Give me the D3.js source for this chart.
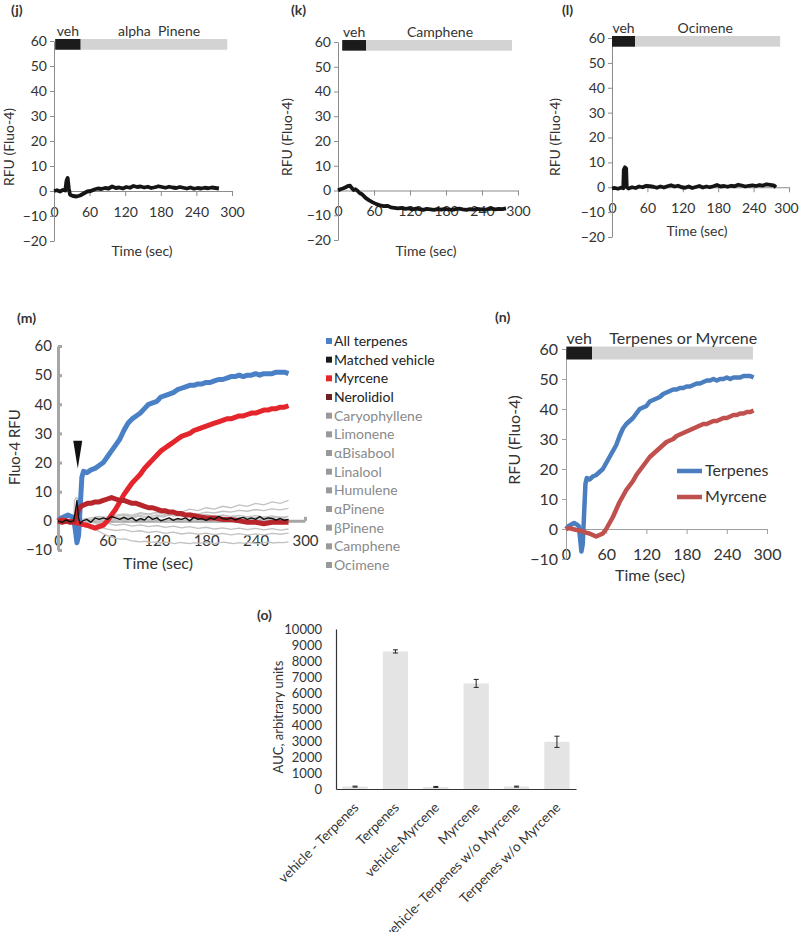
<!DOCTYPE html>
<html>
<head>
<meta charset="utf-8">
<script src="https://cdn.jsdelivr.net/npm/d3@7"></script>
<style>
body { margin: 0; background: #fff; }
svg { font-family: Lato, "Open Sans", sans-serif; }
.ax text { fill: #333; font-family: Lato, sans-serif; }
.t { fill: #333; white-space: pre; }
</style>
</head>
<body>
<svg id="fig" width="800" height="932"></svg>
<script>
// tick labels
const timeTicks = [0, 60, 120, 180, 240, 300]
const rfuTicks = [-20, -10, 0, 10, 20, 30, 40, 50, 60]
const rfuTicksMN = [-10, 0, 10, 20, 30, 40, 50, 60]
const aucTicks = [0, 1000, 2000, 3000, 4000, 5000, 6000, 7000, 8000, 9000, 10000]

// single terpene traces, [sec, RFU]
const alphaPinene = [[0,0],[5,0.3],[10,-0.2],[15,0.4],[19,0.2],[21,4],[23,5.2],[25,1],[27,-1.5],[32,-2],[38,-2.2],[44,-1.8],[50,-1],[56,-0.2],[62,0],[68,0.6],[74,1],[80,0.8],[86,1.2],[92,1],[98,1.8],[104,1.2],[110,1.4],[116,1],[122,1.6],[128,1.3],[134,2],[140,1.6],[146,1.8],[152,1.4],[158,1.7],[164,1.2],[170,1.5],[176,1.9],[182,1.6],[188,1.3],[194,1.7],[200,1.4],[206,1.2],[212,1.6],[218,1.3],[224,1],[230,1.4],[236,0.9],[242,1.2],[248,1],[254,1.3],[260,1.1],[266,1.4],[272,1.2],[278,1]]
const camphene = [[0,0],[4,0.5],[8,0.8],[12,1.2],[16,1.8],[20,2],[23,1],[26,0.2],[29,0.5],[32,0],[36,-1],[40,-1.5],[46,-3],[52,-4],[58,-4.8],[64,-5.5],[70,-6],[76,-6.3],[82,-6.2],[88,-6.8],[94,-7],[100,-7.2],[106,-7],[112,-7.4],[118,-7.2],[124,-7.6],[130,-7.3],[136,-7.5],[142,-7.8],[148,-7.4],[154,-7.6],[160,-7.8],[166,-7.5],[172,-7.7],[178,-7.4],[184,-7.6],[190,-7.8],[196,-7.5],[202,-7.3],[208,-7.6],[214,-7.8],[220,-7.5],[226,-7.7],[232,-7.4],[238,-7.6],[244,-7.8],[250,-7.5],[256,-7.3],[262,-7.6],[268,-7.4],[274,-7.5],[280,-7.2]]
const ocimene = [[0,-0.5],[5,-0.3],[10,-0.6],[15,-0.2],[19,-0.4],[20,7],[22,8],[24,7.5],[25,0],[28,-0.5],[34,0],[40,-0.3],[46,0.3],[52,0],[58,0.6],[64,0.4],[70,0.2],[76,-0.2],[82,0.3],[88,-0.1],[94,0.4],[100,0.8],[106,0.3],[112,0.6],[118,0],[124,-0.2],[130,0.3],[136,-0.3],[142,0.1],[148,0.5],[154,-0.1],[160,0.3],[166,0],[172,0.4],[178,0.9],[184,0.3],[190,0.5],[196,0.2],[202,0.6],[208,0.4],[214,1],[220,0.7],[226,0.3],[232,0.6],[238,0.8],[244,0.5],[250,0.9],[256,0.7],[262,1.2],[268,1],[274,0.8],[278,0]]

// mixture traces
const allTerpenes = [[0,0],[4,1],[8,1.5],[12,2],[16,1.5],[19,1],[21,-3],[23,-7.5],[25,-5],[27,5],[29,15],[31,17],[35,16.5],[40,17.5],[45,18],[50,19],[55,20],[60,22],[65,24],[70,26],[75,28],[80,31],[85,33.5],[90,35],[95,36],[100,37],[105,38.5],[110,40],[115,40.5],[120,41],[125,42.5],[130,43],[135,43.5],[140,44],[145,45],[150,45.5],[155,46],[160,46.5],[165,46.5],[170,47],[175,47],[180,47.5],[185,47.5],[190,48],[195,48.5],[200,48.5],[205,49],[210,49.5],[215,49.5],[220,50],[225,49.5],[230,50],[235,50],[240,50.5],[245,50],[250,50.5],[255,50.5],[260,50.5],[265,51],[270,51],[275,51],[280,50.5]]
const myrcene = [[0,0],[5,0.3],[10,0],[15,-0.3],[20,-0.5],[25,-0.8],[30,-1.2],[35,-1.5],[40,-2],[45,-2.5],[50,-2],[55,-1.5],[60,0],[65,2],[70,4],[75,6.5],[80,9],[85,11],[90,13],[95,14.5],[100,16],[105,18],[110,19.5],[115,21],[120,22.5],[125,24],[130,25],[135,26],[140,27],[145,28],[150,29],[155,29.5],[160,30],[165,31],[170,31.5],[175,32],[180,32.5],[185,33],[190,33.5],[195,34],[200,34.5],[205,35],[210,35],[215,35.5],[220,36],[225,36],[230,36.5],[235,37],[240,37],[245,37.5],[250,38],[255,38],[260,38.5],[265,38.5],[270,39],[275,39],[280,39.5]]
const nerolidiol = [[0,0],[5,-0.5],[10,0],[15,-0.5],[20,0],[23,2],[25,4],[28,5],[32,5.5],[36,6],[40,6],[45,6.5],[50,6.5],[55,7],[60,7.5],[65,8],[70,7.5],[75,7],[80,7],[85,6.5],[90,6],[95,6],[100,5.5],[105,5],[110,4.5],[115,4.5],[120,4],[125,3.5],[130,3.5],[135,3],[140,3],[145,2.5],[150,2.5],[155,2],[160,2],[170,1.5],[180,1],[190,1],[200,0.5],[210,0.5],[220,0],[230,-0.5],[240,-0.5],[250,-1],[260,-0.5],[270,-0.5],[280,-0.5]]
const matchedVehicle = [[0,0],[5,-0.5],[10,0.3],[15,-0.3],[19,0],[21,3],[23,7],[25,1],[27,-1],[30,0],[35,0.5],[40,-0.5],[45,1],[50,0.5],[55,1],[60,0.5],[65,1.5],[70,1],[75,0.5],[80,1.2],[85,0.5],[90,1],[95,0],[100,0.8],[105,0.3],[110,1.5],[115,0.5],[120,1],[125,0],[130,0.5],[135,1],[140,0.2],[145,0.8],[150,0.5],[155,1],[160,0],[165,1.2],[170,0.5],[175,0.8],[180,0.2],[185,1],[190,0.5],[195,1.5],[200,0.8],[205,0.5],[210,1],[215,0.3],[220,0.8],[225,1.2],[230,0.5],[235,1],[240,0.5],[245,1.5],[250,0.5],[255,1],[260,0.8],[265,0.3],[270,0.8],[275,0.2],[280,0.5]]
const caryophyllene = [[0,0],[10,0.5],[20,0],[30,-0.5],[40,0.5],[50,1],[60,0.5],[70,1.5],[80,2],[90,1.5],[100,2.5],[110,2],[120,3],[130,2.5],[140,3.5],[150,3],[160,4],[170,3.5],[180,4.5],[190,4],[200,5],[210,4.5],[220,5.5],[230,5],[240,6],[250,5.5],[260,6.5],[270,6],[280,7]]
const limonene = [[0,0],[10,-0.5],[20,0.3],[30,0],[40,0.5],[50,0.2],[60,1],[70,0.6],[80,1.4],[90,1],[100,1.8],[110,1.4],[120,2],[130,1.7],[140,2.4],[150,2],[160,2.7],[170,2.4],[180,3],[190,2.7],[200,3.3],[210,3],[220,3.6],[230,3.3],[240,3.9],[250,3.5],[260,4.1],[270,3.8],[280,4.3]]
const bisabool = [[0,0],[10,0.4],[20,0],[30,0.6],[40,1],[50,1.5],[60,1.2],[70,2],[80,2.4],[90,2],[100,2.8],[110,2.4],[120,2.8],[130,2.2],[140,2.6],[150,2],[160,2.4],[170,1.8],[180,2.2],[190,1.6],[200,2],[210,1.5],[220,1.9],[230,1.4],[240,1.8],[250,1.3],[260,1.7],[270,1.2],[280,1.5]]
const linalool = [[0,0],[10,-0.4],[20,0.2],[30,-0.3],[40,0.3],[50,-0.2],[60,0.4],[70,0],[80,0.6],[90,0.1],[100,0.5],[110,0],[120,0.6],[130,0.2],[140,0.7],[150,0.2],[160,0.6],[170,0.1],[180,0.5],[190,0],[200,0.6],[210,0.2],[220,0.7],[230,0.3],[240,0.8],[250,0.3],[260,0.7],[270,0.2],[280,0.5]]
const humulene = [[0,0],[10,0.3],[20,-0.4],[30,-0.8],[40,-0.4],[50,-1.2],[60,-0.8],[70,-1.5],[80,-1.1],[90,-1.8],[100,-1.4],[110,-2],[120,-1.6],[130,-2.2],[140,-1.8],[150,-2.4],[160,-2],[170,-2.6],[180,-2.2],[190,-2.8],[200,-2.4],[210,-2.9],[220,-2.5],[230,-3],[240,-2.6],[250,-3.1],[260,-2.7],[270,-3.2],[280,-2.8]]
const betaPinene = [[0,0],[10,-0.5],[20,-0.2],[30,-1],[40,-1.6],[50,-2.2],[60,-2.8],[70,-3.3],[80,-3],[90,-3.7],[100,-3.4],[110,-4],[120,-3.6],[130,-4.3],[140,-3.9],[150,-4.5],[160,-4.1],[170,-4.6],[180,-4.2],[190,-4.7],[200,-4.3],[210,-4.8],[220,-4.4],[230,-4.9],[240,-4.5],[250,-4.8],[260,-4.3],[270,-4.6],[280,-4.2]]

// application bars: [vehicle start, vehicle end, compound end] (sec) and [low, high] (RFU)
const jBar = [2, 45, 292]
const kBar = [7, 47, 290]
const lBar = [0, 39, 285]
const nBar = [0.5, 39, 279]
const barLevel = [56.5, 60.8]

// panel (m) legend
const mNames = ['All terpenes', 'Matched vehicle', 'Myrcene', 'Nerolidiol', 'Caryophyllene', 'Limonene', '\u03b1Bisabool', 'Linalool', 'Humulene', '\u03b1Pinene', '\u03b2Pinene', 'Camphene', 'Ocimene']
const mSeries = [allTerpenes, matchedVehicle, myrcene, nerolidiol, caryophyllene, limonene, bisabool, linalool, humulene, alphaPinene, betaPinene, camphene, ocimene]
const arrowMark = [24, 27.5, 18]   // sec, top, tip

// panel (o) bars
const oCats = ['vehicle - Terpenes', 'Terpenes', 'vehicle-Myrcene', 'Myrcene', 'vehicle- Terpenes w/o Myrcene', 'Terpenes w/o Myrcene']
const oVals = [150, 8600, 130, 6600, 150, 2950]
const oErr = [30, 100, 30, 250, 30, 350]

let svg = d3.select('#fig')

let addText = (txt, x, y, size, opts = {}) => {
    let t = svg.append('text')
        .attr('class', 't')
        .attr('x', x)
        .attr('y', y)
        .style('font-size', size + 'px')
        .text(txt)
    if (opts.anchor) t.attr('text-anchor', opts.anchor)
    if (opts.bold) t.style('font-weight', 'bold')
    if (opts.fill) t.style('fill', opts.fill)
    if (opts.rot) {
        t.attr('x', 0).attr('y', 0)
         .attr('transform', 'translate(' + x + ',' + y + ') rotate(' + opts.rot + ')')
         .attr('dominant-baseline', 'central')
    }
    return t
}

let styleAxis = (g, color, width, size) => {
    g.selectAll('path, line').attr('stroke', color).attr('stroke-width', width)
    g.selectAll('text').style('font-size', size + 'px')
}

let drawAppBar = (x, y, bar, vehLabel, stimLabel, stimT, size) => {
    svg.append('rect')
        .attr('x', x(bar[0])).attr('y', y(barLevel[1]))
        .attr('width', x(bar[1]) - x(bar[0]))
        .attr('height', y(barLevel[0]) - y(barLevel[1]))
        .attr('fill', '#1b1b1b')
    svg.append('rect')
        .attr('x', x(bar[1])).attr('y', y(barLevel[1]))
        .attr('width', x(bar[2]) - x(bar[1]))
        .attr('height', y(barLevel[0]) - y(barLevel[1]))
        .attr('fill', '#d3d3d3')
    addText(vehLabel, x((bar[0] + bar[1]) / 2), y(barLevel[1]) - 3, size, {anchor: 'middle'})
    addText(stimLabel, x(stimT), y(barLevel[1]) - 3, size, {anchor: 'middle'})
}

let line = (x, y) => d3.line().x(d => x(d[0])).y(d => y(d[1]))

// panels j, k, l
let drawSingle = (p) => {
    let x = d3.scaleLinear().domain([0, 300]).range([p.x0, p.x1])
    let y = d3.scaleLinear().domain([-20, 60]).range([p.yBot, p.yTop])

    let gx = svg.append('g').attr('class', 'ax')
        .attr('transform', 'translate(0,' + y(0) + ')')
        .call(d3.axisBottom(x).tickValues(timeTicks).tickSizeInner(5).tickSizeOuter(0).tickPadding(11))
    styleAxis(gx, '#8c8c8c', 1, 14)
    // keep the last label inside the page
    gx.selectAll('text').filter(d => d === 300).attr('dx', p.lastDx || 0)
    let gy = svg.append('g').attr('class', 'ax')
        .attr('transform', 'translate(' + p.x0 + ',0)')
        .call(d3.axisLeft(y).tickValues(rfuTicks).tickSizeInner(4).tickSizeOuter(0).tickPadding(3))
    styleAxis(gy, '#8c8c8c', 1, 14)

    drawAppBar(x, y, p.bar, 'veh', p.name, p.nameT, 14)

    svg.append('path')
        .datum(p.data)
        .attr('d', line(x, y))
        .attr('fill', 'none')
        .attr('stroke', '#151515')
        .attr('stroke-width', 3.8)
        .attr('stroke-linejoin', 'round')

    addText(p.tag, p.tagX, 15, 14, {bold: true})
    addText('RFU (Fluo-4)', p.yTitleX, p.yTitleY, 14, {anchor: 'middle', rot: -90})
    addText('Time (sec)', p.xTitleX, p.xTitleY, 14, {anchor: 'middle'})
}

drawSingle({tag: '(j)', tagX: 11, x0: 54, x1: 232, yTop: 41, yBot: 241, bar: jBar, name: 'alpha  Pinene', nameT: 177,
    data: alphaPinene, yTitleX: 8, yTitleY: 147, xTitleX: 142, xTitleY: 256})
drawSingle({tag: '(k)', tagX: 291, x0: 338, x1: 518, yTop: 42, yBot: 240, bar: kBar, name: 'Camphene', nameT: 170,
    data: camphene, yTitleX: 286, yTitleY: 137, xTitleX: 426, xTitleY: 256})
drawSingle({tag: '(l)', tagX: 562, x0: 612, x1: 789, yTop: 38, yBot: 237, bar: lBar, name: 'Ocimene', nameT: 158,
    data: ocimene, yTitleX: 554, yTitleY: 137, xTitleX: 697, xTitleY: 236, lastDx: -3})

// panel m
let drawM = () => {
    let x = d3.scaleLinear().domain([0, 300]).range([58, 305])
    let y = d3.scaleLinear().domain([-10, 60]).range([550, 346])

    let gx = svg.append('g').attr('class', 'ax')
        .attr('transform', 'translate(0,' + y(0) + ')')
        .call(d3.axisBottom(x).tickValues(timeTicks).tickSizeInner(-4).tickSizeOuter(0).tickPadding(15))
    styleAxis(gx, '#a6a6a6', 3, 15)
    let gy = svg.append('g').attr('class', 'ax')
        .attr('transform', 'translate(58,0)')
        .call(d3.axisLeft(y).tickValues(rfuTicksMN).tickSizeInner(-4).tickSizeOuter(0).tickPadding(6))
    styleAxis(gy, '#a6a6a6', 3, 15)

    let greys = mSeries.slice(4)
    svg.append('g').selectAll('path')
        .data(greys)
        .enter()
        .append('path')
        .attr('d', line(x, y))
        .attr('fill', 'none')
        .attr('stroke', '#c2c2c2')
        .attr('stroke-width', 1.3)

    let main = [
        {d: allTerpenes, c: '#4a80c6', w: 5},
        {d: myrcene, c: '#e4262c', w: 5},
        {d: nerolidiol, c: '#b8262b', w: 5},
        {d: matchedVehicle, c: '#111', w: 1.4}
    ]
    main.forEach(s => {
        svg.append('path')
            .datum(s.d)
            .attr('d', line(x, y))
            .attr('fill', 'none')
            .attr('stroke', s.c)
            .attr('stroke-width', s.w)
            .attr('stroke-linejoin', 'round')
    })

    // arrow head at application time
    let ax = x(arrowMark[0])
    svg.append('path')
        .attr('d', 'M' + (ax - 4.5) + ',' + y(arrowMark[1]) + 'L' + (ax + 4.5) + ',' + y(arrowMark[1]) + 'L' + ax + ',' + y(arrowMark[2]) + 'Z')
        .attr('fill', '#111')

    addText('(m)', 17, 323, 14, {bold: true})
    addText('Fluo-4 RFU', 14, 447, 15, {anchor: 'middle', rot: -90})
    addText('Time (sec)', 158, 569, 16, {anchor: 'middle'})

    // legend
    let legColors = ['#4a80c6', '#1a1a1a', '#e4262c', '#6e1f1f', '#999', '#999', '#999', '#999', '#999', '#999', '#999', '#999', '#999']
    let ly = d3.scaleLinear().domain([0, 12]).range([341, 565])
    mNames.forEach((n, i) => {
        svg.append('rect')
            .attr('x', 326).attr('y', ly(i) - 3)
            .attr('width', 6).attr('height', 6)
            .attr('fill', legColors[i])
        addText(n, 334, ly(i) + 5, 14, {fill: i < 4 ? '#222' : '#8a8a8a'})
    })
}
drawM()

// panel n
let drawN = () => {
    let x = d3.scaleLinear().domain([0, 300]).range([566, 767])
    let y = d3.scaleLinear().domain([-10, 60]).range([559, 349])

    let gx = svg.append('g').attr('class', 'ax')
        .attr('transform', 'translate(0,' + y(0) + ')')
        .call(d3.axisBottom(x).tickValues(timeTicks).tickSizeInner(5).tickSizeOuter(0).tickPadding(15))
    styleAxis(gx, '#a0a0a0', 1, 16)
    let gy = svg.append('g').attr('class', 'ax')
        .attr('transform', 'translate(566,0)')
        .call(d3.axisLeft(y).tickValues(rfuTicksMN).tickSizeInner(4).tickSizeOuter(0).tickPadding(4))
    styleAxis(gy, '#a0a0a0', 1, 16)

    drawAppBar(x, y, nBar, 'veh', 'Terpenes or Myrcene', 175, 16)

    let ser = [{d: allTerpenes, c: '#4a7ebf', n: 'Terpenes'}, {d: myrcene, c: '#c0504d', n: 'Myrcene'}]
    ser.forEach((s, i) => {
        svg.append('path')
            .datum(s.d)
            .attr('d', line(x, y))
            .attr('fill', 'none')
            .attr('stroke', s.c)
            .attr('stroke-width', 4.5)
            .attr('stroke-linejoin', 'round')
        let yy = 471 + i * 26
        svg.append('line')
            .attr('x1', 677).attr('x2', 702)
            .attr('y1', yy).attr('y2', yy)
            .attr('stroke', s.c).attr('stroke-width', 4.5)
        addText(s.n, 705, yy + 5, 16)
    })

    addText('(n)', 495, 322, 14, {bold: true})
    addText('RFU (Fluo-4)', 513, 440, 16, {anchor: 'middle', rot: -90})
    addText('Time (sec)', 650, 581, 16, {anchor: 'middle'})
}
drawN()

// panel o
let drawO = () => {
    let x = d3.scaleBand().domain(oCats).range([336, 576]).paddingInner(0.375).paddingOuter(0.16)
    let y = d3.scaleLinear().domain([0, 10000]).range([789, 629])
    let bw = x.bandwidth()

    svg.append('g').selectAll('rect')
        .data(oCats)
        .enter()
        .append('rect')
        .attr('x', d => x(d))
        .attr('y', (d, i) => y(oVals[i]))
        .attr('width', bw)
        .attr('height', (d, i) => y(0) - y(oVals[i]))
        .attr('fill', '#e4e4e4')

    oCats.forEach((c, i) => {
        let cx = x(c) + bw / 2
        let top = y(oVals[i] + oErr[i]), bot = y(oVals[i] - oErr[i])
        svg.append('path')
            .attr('d', 'M' + (cx - 2.5) + ',' + top + 'H' + (cx + 2.5) + 'M' + cx + ',' + top + 'V' + bot + 'M' + (cx - 2.5) + ',' + bot + 'H' + (cx + 2.5))
            .attr('stroke', '#222').attr('stroke-width', 1).attr('fill', 'none')
    })

    let gy = svg.append('g').attr('class', 'ax')
        .attr('transform', 'translate(336,0)')
        .call(d3.axisLeft(y).tickValues(aucTicks).tickSize(0).tickPadding(14).tickFormat(d3.format('d')))
    styleAxis(gy, '#333', 1.2, 13)
    let gx = svg.append('g').attr('class', 'ax')
        .attr('transform', 'translate(0,789)')
        .call(d3.axisBottom(x).tickSize(0).tickSizeOuter(0))
    styleAxis(gx, '#333', 1.2, 13.5)
    gx.selectAll('text')
        .attr('y', 0)
        .attr('text-anchor', 'end')
        .attr('dy', '0.35em')
        .attr('transform', 'translate(1,16) rotate(-45)')

    addText('(o)', 257, 620, 14, {bold: true})
    addText('AUC, arbitrary units', 278, 717, 13, {anchor: 'middle', rot: -90})
}
drawO()
</script>
</body>
</html>
